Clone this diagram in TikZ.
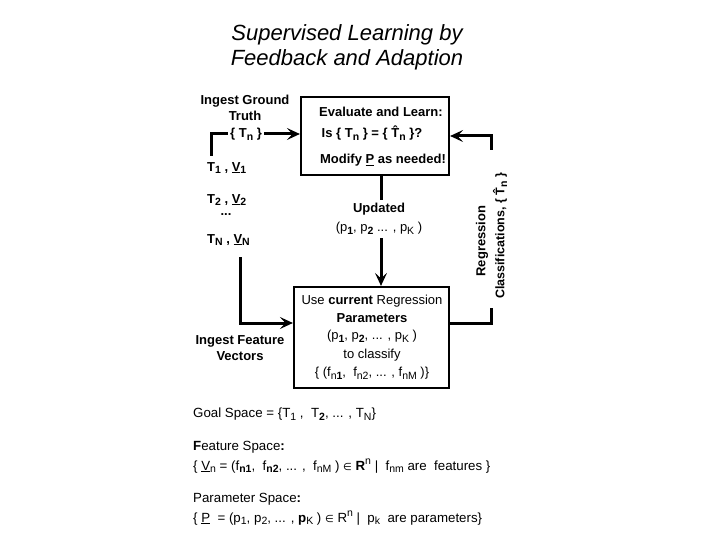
\documentclass[tikz,border=0pt]{standalone}
\usepackage{fontspec}
\setmainfont{Liberation Sans}
\newfontfamily\dv{DejaVu Sans}
\usetikzlibrary{arrows.meta}
\newcommand\sbs[1]{\raisebox{-0.4ex}{\fontsize{10.5}{10.5}\selectfont #1}}
\newcommand\sps[1]{\raisebox{0.75ex}{\fontsize{10.5}{10.5}\selectfont #1}}
\newcommand\ul[1]{\underline{#1}}
\newcommand\that{\^{T}}
\newcommand\elem{{\dv\fontsize{10}{10}\selectfont ∈}}
\begin{document}
\begin{tikzpicture}[x=1pt,y=-1pt,
  txt/.style={inner sep=0pt, font=\fontsize{13}{16}\selectfont},
  dtxt/.style={inner sep=0pt, font=\fontsize{13.3}{16}\selectfont},
  btxt/.style={inner sep=0pt, font=\fontsize{13}{16}\selectfont\bfseries},
  box/.style={draw, line width=2.2pt, rectangle, inner sep=0pt},
  conn/.style={line width=3pt},
  arr/.style={conn, -{Stealth[length=13pt,width=12pt,inset=5.5pt]}},
]
\fill[white] (0,0) rectangle (720,540);
\useasboundingbox (0,0) rectangle (720,540);

% title
\node[inner sep=0pt, align=center, font=\fontsize{22}{25}\selectfont\itshape] (title) at (347,47) {Supervised Learning by\\Feedback and Adaption};

% boxes
\node[box, minimum width=148pt, minimum height=78pt] (top) at (375,136) {};
\node[box, minimum width=155pt, minimum height=101pt] (bot) at (371.5,337.5) {};

% helper coordinates
\coordinate (gA) at (211,156);
\coordinate (gB) at (211,134);
\coordinate (vx) at (381,0);
\coordinate (rA) at (491,150);
\coordinate (rB) at (491,308);
\coordinate (ry) at (0,323);
\coordinate (fA) at (240,257);
\coordinate (fB) at (240,323);

% connectors
\draw[arr] (gA) -- (gB) -- (gB -| top.west);
\draw[arr] (top.south -| vx) -- (bot.north -| vx);
\draw[arr] (rA) -- (rA |- top.east) -- (top.east);
\draw[conn] (bot.east |- ry) -- (rB |- ry) -- (rB);
\draw[arr] (fA) -- (fB) -- (fB -| bot.west);

% left labels
\node[btxt, fill=white, inner xsep=2pt, inner ysep=1pt] (gt) at (246,134) {\{ T\sbs{n} \}};
\node[btxt, align=center] (igt) at (245,108) {Ingest Ground\\Truth};
\node[btxt, anchor=west] (t1) at (207,168) {T\sbs{1} , \ul{V}\sbs{1}};
\node[btxt, anchor=west] (t2) at (207,200) {T\sbs{2} , \ul{V}\sbs{2}};
\node[btxt] (dots) at (226,215) {...};
\node[btxt, anchor=west] (tn) at (207,240) {T\sbs{N} , \ul{V}\sbs{N}};
\node[btxt, align=center] (ifv) at (240,348) {Ingest Feature\\Vectors};

% top box texts
\node[btxt] (ev) at (381,112) {Evaluate and Learn:};
\node[btxt] (is) at (372,133) {Is \{ T\sbs{n} \} = \{ \that\sbs{n} \}?};
\node[btxt] (mod) at (383,160) {Modify \ul{P} as needed!};

% updated label
\node[fill=white, inner sep=3pt, align=center, font=\fontsize{13}{16}\selectfont] (upd) at (379,219) {\textbf{Updated}\\[3pt](p\sbs{\textbf{1}}, p\sbs{\textbf{2}} ... , p\sbs{K} )};

% right labels
\node[btxt, rotate=90] (reg) at (482,241) {Regression};
\node[inner sep=0pt, rotate=90, font=\fontsize{12.5}{15}\selectfont\bfseries] (cls) at (500,236) {Classifications, \{ \that\sbs{n} \}};

% bottom box texts
\node[txt] (u1) at (372,301) {Use \textbf{current} Regression};
\node[txt] (u2) at (372,318) {\textbf{Parameters}};
\node[txt] (u3) at (372,336) {(p\sbs{\textbf{1}}, p\sbs{\textbf{2}}, ... , p\sbs{K} )};
\node[txt] (u4) at (372,355) {to classify};
\node[txt] (u5) at (372,373) {\{ (f\sbs{n\textbf{1}}, \ f\sbs{n2}, ... , f\sbs{nM} )\}};

% definitions
\node[dtxt, anchor=west] (gs) at (193,414) {Goal Space = \{T\sbs{1} , \ T\sbs{\textbf{2}}, ... , T\sbs{N}\}};
\node[dtxt, anchor=west] (fs) at (193,447) {\textbf{F}eature Space\textbf{:}};
\node[dtxt, anchor=west] (fsd) at (193,466) {\{ \ul{V}\sbs{n} = (f\sbs{\textbf{n1}}, \ f\sbs{\textbf{n2}}, ... , \ f\sbs{nM} ) \elem\ \textbf{R}\sps{n} | \ f\sbs{nm} are \ features \}};
\node[dtxt, anchor=west] (ps) at (193,499) {Parameter Space\textbf{:}};
\node[dtxt, anchor=west] (psd) at (193,518) {\{ \ul{P} \ = (p\sbs{1}, p\sbs{2}, ... , \textbf{p}\sbs{K} ) \elem\ R\sps{n} | \ p\sbs{k} \ are parameters\}};
\end{tikzpicture}
\end{document}
